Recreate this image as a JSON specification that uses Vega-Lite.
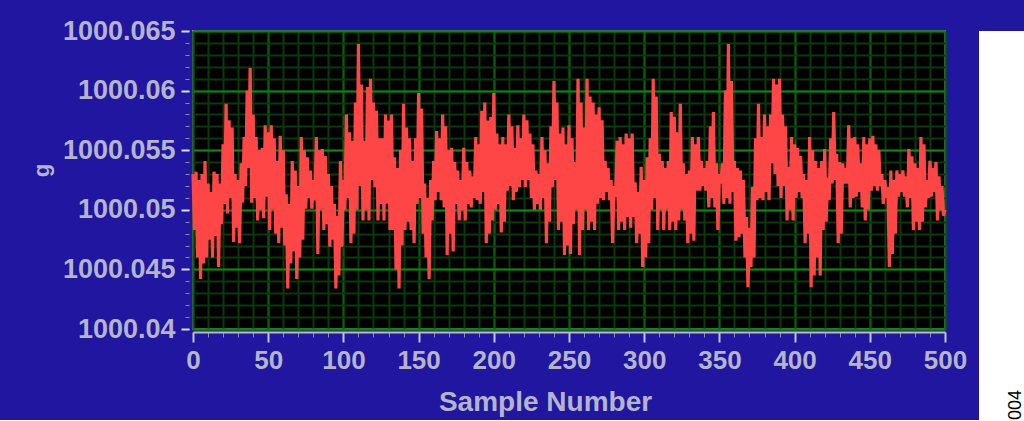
{
 "$schema": "https://vega.github.io/schema/vega-lite/v6.json",
 "background": "#2016a0",
 "padding": {"left": 29, "top": 16, "right": 0, "bottom": 0},
 "bounds": "flush",
 "spacing": 34,
 "datasets": {
  "series": [
{"sample":0,"g":1000.0530},{"sample":1,"g":1000.0483},{"sample":2,"g":1000.0532},{"sample":3,"g":1000.0460},{"sample":4,"g":1000.0525},{"sample":5,"g":1000.0442},{"sample":6,"g":1000.0530},{"sample":7,"g":1000.0455},{"sample":8,"g":1000.0541},{"sample":9,"g":1000.0460},
{"sample":10,"g":1000.0522},{"sample":11,"g":1000.0475},{"sample":12,"g":1000.0515},{"sample":13,"g":1000.0460},{"sample":14,"g":1000.0532},{"sample":15,"g":1000.0478},{"sample":16,"g":1000.0530},{"sample":17,"g":1000.0452},{"sample":18,"g":1000.0522},{"sample":19,"g":1000.0488},
{"sample":20,"g":1000.0555},{"sample":21,"g":1000.0505},{"sample":22,"g":1000.0589},{"sample":23,"g":1000.0497},{"sample":24,"g":1000.0575},{"sample":25,"g":1000.0510},{"sample":26,"g":1000.0569},{"sample":27,"g":1000.0473},{"sample":28,"g":1000.0530},{"sample":29,"g":1000.0485},
{"sample":30,"g":1000.0525},{"sample":31,"g":1000.0472},{"sample":32,"g":1000.0539},{"sample":33,"g":1000.0506},{"sample":34,"g":1000.0561},{"sample":35,"g":1000.0520},{"sample":36,"g":1000.0600},{"sample":37,"g":1000.0535},{"sample":38,"g":1000.0619},{"sample":39,"g":1000.0506},
{"sample":40,"g":1000.0580},{"sample":41,"g":1000.0510},{"sample":42,"g":1000.0561},{"sample":43,"g":1000.0491},{"sample":44,"g":1000.0550},{"sample":45,"g":1000.0500},{"sample":46,"g":1000.0552},{"sample":47,"g":1000.0493},{"sample":48,"g":1000.0571},{"sample":49,"g":1000.0511},
{"sample":50,"g":1000.0565},{"sample":51,"g":1000.0483},{"sample":52,"g":1000.0571},{"sample":53,"g":1000.0500},{"sample":54,"g":1000.0560},{"sample":55,"g":1000.0480},{"sample":56,"g":1000.0541},{"sample":57,"g":1000.0472},{"sample":58,"g":1000.0562},{"sample":59,"g":1000.0485},
{"sample":60,"g":1000.0550},{"sample":61,"g":1000.0470},{"sample":62,"g":1000.0513},{"sample":63,"g":1000.0434},{"sample":64,"g":1000.0505},{"sample":65,"g":1000.0455},{"sample":66,"g":1000.0541},{"sample":67,"g":1000.0465},{"sample":68,"g":1000.0533},{"sample":69,"g":1000.0442},
{"sample":70,"g":1000.0520},{"sample":71,"g":1000.0460},{"sample":72,"g":1000.0561},{"sample":73,"g":1000.0475},{"sample":74,"g":1000.0550},{"sample":75,"g":1000.0501},{"sample":76,"g":1000.0544},{"sample":77,"g":1000.0510},{"sample":78,"g":1000.0533},{"sample":79,"g":1000.0501},
{"sample":80,"g":1000.0525},{"sample":81,"g":1000.0508},{"sample":82,"g":1000.0561},{"sample":83,"g":1000.0463},{"sample":84,"g":1000.0550},{"sample":85,"g":1000.0500},{"sample":86,"g":1000.0551},{"sample":87,"g":1000.0483},{"sample":88,"g":1000.0545},{"sample":89,"g":1000.0488},
{"sample":90,"g":1000.0530},{"sample":91,"g":1000.0469},{"sample":92,"g":1000.0520},{"sample":93,"g":1000.0475},{"sample":94,"g":1000.0505},{"sample":95,"g":1000.0434},{"sample":96,"g":1000.0495},{"sample":97,"g":1000.0445},{"sample":98,"g":1000.0541},{"sample":99,"g":1000.0469},
{"sample":100,"g":1000.0525},{"sample":101,"g":1000.0500},{"sample":102,"g":1000.0580},{"sample":103,"g":1000.0510},{"sample":104,"g":1000.0565},{"sample":105,"g":1000.0472},{"sample":106,"g":1000.0558},{"sample":107,"g":1000.0480},{"sample":108,"g":1000.0590},{"sample":109,"g":1000.0500},
{"sample":110,"g":1000.0639},{"sample":111,"g":1000.0520},{"sample":112,"g":1000.0605},{"sample":113,"g":1000.0491},{"sample":114,"g":1000.0558},{"sample":115,"g":1000.0500},{"sample":116,"g":1000.0603},{"sample":117,"g":1000.0491},{"sample":118,"g":1000.0610},{"sample":119,"g":1000.0525},
{"sample":120,"g":1000.0590},{"sample":121,"g":1000.0519},{"sample":122,"g":1000.0583},{"sample":123,"g":1000.0491},{"sample":124,"g":1000.0560},{"sample":125,"g":1000.0505},{"sample":126,"g":1000.0560},{"sample":127,"g":1000.0491},{"sample":128,"g":1000.0580},{"sample":129,"g":1000.0505},
{"sample":130,"g":1000.0575},{"sample":131,"g":1000.0483},{"sample":132,"g":1000.0580},{"sample":133,"g":1000.0483},{"sample":134,"g":1000.0544},{"sample":135,"g":1000.0450},{"sample":136,"g":1000.0535},{"sample":137,"g":1000.0434},{"sample":138,"g":1000.0550},{"sample":139,"g":1000.0470},
{"sample":140,"g":1000.0589},{"sample":141,"g":1000.0483},{"sample":142,"g":1000.0569},{"sample":143,"g":1000.0490},{"sample":144,"g":1000.0560},{"sample":145,"g":1000.0483},{"sample":146,"g":1000.0541},{"sample":147,"g":1000.0472},{"sample":148,"g":1000.0560},{"sample":149,"g":1000.0505},
{"sample":150,"g":1000.0598},{"sample":151,"g":1000.0510},{"sample":152,"g":1000.0585},{"sample":153,"g":1000.0480},{"sample":154,"g":1000.0522},{"sample":155,"g":1000.0460},{"sample":156,"g":1000.0510},{"sample":157,"g":1000.0442},{"sample":158,"g":1000.0525},{"sample":159,"g":1000.0491},
{"sample":160,"g":1000.0541},{"sample":161,"g":1000.0508},{"sample":162,"g":1000.0566},{"sample":163,"g":1000.0515},{"sample":164,"g":1000.0560},{"sample":165,"g":1000.0508},{"sample":166,"g":1000.0580},{"sample":167,"g":1000.0502},{"sample":168,"g":1000.0570},{"sample":169,"g":1000.0462},
{"sample":170,"g":1000.0550},{"sample":171,"g":1000.0480},{"sample":172,"g":1000.0552},{"sample":173,"g":1000.0465},{"sample":174,"g":1000.0540},{"sample":175,"g":1000.0505},{"sample":176,"g":1000.0533},{"sample":177,"g":1000.0491},{"sample":178,"g":1000.0525},{"sample":179,"g":1000.0500},
{"sample":180,"g":1000.0552},{"sample":181,"g":1000.0491},{"sample":182,"g":1000.0540},{"sample":183,"g":1000.0505},{"sample":184,"g":1000.0533},{"sample":185,"g":1000.0502},{"sample":186,"g":1000.0528},{"sample":187,"g":1000.0510},{"sample":188,"g":1000.0561},{"sample":189,"g":1000.0508},
{"sample":190,"g":1000.0555},{"sample":191,"g":1000.0505},{"sample":192,"g":1000.0583},{"sample":193,"g":1000.0515},{"sample":194,"g":1000.0590},{"sample":195,"g":1000.0472},{"sample":196,"g":1000.0575},{"sample":197,"g":1000.0480},{"sample":198,"g":1000.0578},{"sample":199,"g":1000.0491},
{"sample":200,"g":1000.0598},{"sample":201,"g":1000.0500},{"sample":202,"g":1000.0564},{"sample":203,"g":1000.0505},{"sample":204,"g":1000.0555},{"sample":205,"g":1000.0481},{"sample":206,"g":1000.0561},{"sample":207,"g":1000.0490},{"sample":208,"g":1000.0555},{"sample":209,"g":1000.0516},
{"sample":210,"g":1000.0580},{"sample":211,"g":1000.0520},{"sample":212,"g":1000.0570},{"sample":213,"g":1000.0508},{"sample":214,"g":1000.0552},{"sample":215,"g":1000.0515},{"sample":216,"g":1000.0571},{"sample":217,"g":1000.0519},{"sample":218,"g":1000.0560},{"sample":219,"g":1000.0525},
{"sample":220,"g":1000.0580},{"sample":221,"g":1000.0519},{"sample":222,"g":1000.0575},{"sample":223,"g":1000.0525},{"sample":224,"g":1000.0564},{"sample":225,"g":1000.0510},{"sample":226,"g":1000.0555},{"sample":227,"g":1000.0500},{"sample":228,"g":1000.0533},{"sample":229,"g":1000.0505},
{"sample":230,"g":1000.0530},{"sample":231,"g":1000.0500},{"sample":232,"g":1000.0561},{"sample":233,"g":1000.0510},{"sample":234,"g":1000.0550},{"sample":235,"g":1000.0472},{"sample":236,"g":1000.0539},{"sample":237,"g":1000.0490},{"sample":238,"g":1000.0570},{"sample":239,"g":1000.0519},
{"sample":240,"g":1000.0608},{"sample":241,"g":1000.0525},{"sample":242,"g":1000.0590},{"sample":243,"g":1000.0483},{"sample":244,"g":1000.0564},{"sample":245,"g":1000.0490},{"sample":246,"g":1000.0569},{"sample":247,"g":1000.0462},{"sample":248,"g":1000.0555},{"sample":249,"g":1000.0470},
{"sample":250,"g":1000.0571},{"sample":251,"g":1000.0463},{"sample":252,"g":1000.0560},{"sample":253,"g":1000.0488},{"sample":254,"g":1000.0540},{"sample":255,"g":1000.0500},{"sample":256,"g":1000.0610},{"sample":257,"g":1000.0462},{"sample":258,"g":1000.0590},{"sample":259,"g":1000.0483},
{"sample":260,"g":1000.0569},{"sample":261,"g":1000.0500},{"sample":262,"g":1000.0610},{"sample":263,"g":1000.0483},{"sample":264,"g":1000.0595},{"sample":265,"g":1000.0490},{"sample":266,"g":1000.0590},{"sample":267,"g":1000.0483},{"sample":268,"g":1000.0580},{"sample":269,"g":1000.0505},
{"sample":270,"g":1000.0586},{"sample":271,"g":1000.0510},{"sample":272,"g":1000.0575},{"sample":273,"g":1000.0508},{"sample":274,"g":1000.0541},{"sample":275,"g":1000.0515},{"sample":276,"g":1000.0535},{"sample":277,"g":1000.0508},{"sample":278,"g":1000.0525},{"sample":279,"g":1000.0472},
{"sample":280,"g":1000.0520},{"sample":281,"g":1000.0511},{"sample":282,"g":1000.0558},{"sample":283,"g":1000.0483},{"sample":284,"g":1000.0561},{"sample":285,"g":1000.0490},{"sample":286,"g":1000.0555},{"sample":287,"g":1000.0483},{"sample":288,"g":1000.0564},{"sample":289,"g":1000.0494},
{"sample":290,"g":1000.0560},{"sample":291,"g":1000.0485},{"sample":292,"g":1000.0564},{"sample":293,"g":1000.0494},{"sample":294,"g":1000.0523},{"sample":295,"g":1000.0472},{"sample":296,"g":1000.0515},{"sample":297,"g":1000.0480},{"sample":298,"g":1000.0536},{"sample":299,"g":1000.0452},
{"sample":300,"g":1000.0525},{"sample":301,"g":1000.0460},{"sample":302,"g":1000.0544},{"sample":303,"g":1000.0472},{"sample":304,"g":1000.0560},{"sample":305,"g":1000.0500},{"sample":306,"g":1000.0610},{"sample":307,"g":1000.0510},{"sample":308,"g":1000.0595},{"sample":309,"g":1000.0483},
{"sample":310,"g":1000.0547},{"sample":311,"g":1000.0500},{"sample":312,"g":1000.0541},{"sample":313,"g":1000.0483},{"sample":314,"g":1000.0535},{"sample":315,"g":1000.0500},{"sample":316,"g":1000.0541},{"sample":317,"g":1000.0483},{"sample":318,"g":1000.0582},{"sample":319,"g":1000.0490},
{"sample":320,"g":1000.0578},{"sample":321,"g":1000.0483},{"sample":322,"g":1000.0565},{"sample":323,"g":1000.0491},{"sample":324,"g":1000.0589},{"sample":325,"g":1000.0500},{"sample":326,"g":1000.0539},{"sample":327,"g":1000.0491},{"sample":328,"g":1000.0530},{"sample":329,"g":1000.0472},
{"sample":330,"g":1000.0533},{"sample":331,"g":1000.0480},{"sample":332,"g":1000.0561},{"sample":333,"g":1000.0474},{"sample":334,"g":1000.0555},{"sample":335,"g":1000.0516},{"sample":336,"g":1000.0561},{"sample":337,"g":1000.0516},{"sample":338,"g":1000.0541},{"sample":339,"g":1000.0520},
{"sample":340,"g":1000.0535},{"sample":341,"g":1000.0516},{"sample":342,"g":1000.0541},{"sample":343,"g":1000.0502},{"sample":344,"g":1000.0570},{"sample":345,"g":1000.0510},{"sample":346,"g":1000.0582},{"sample":347,"g":1000.0502},{"sample":348,"g":1000.0539},{"sample":349,"g":1000.0483},
{"sample":350,"g":1000.0530},{"sample":351,"g":1000.0522},{"sample":352,"g":1000.0539},{"sample":353,"g":1000.0505},{"sample":354,"g":1000.0600},{"sample":355,"g":1000.0510},{"sample":356,"g":1000.0639},{"sample":357,"g":1000.0505},{"sample":358,"g":1000.0608},{"sample":359,"g":1000.0515},
{"sample":360,"g":1000.0541},{"sample":361,"g":1000.0474},{"sample":362,"g":1000.0535},{"sample":363,"g":1000.0477},{"sample":364,"g":1000.0533},{"sample":365,"g":1000.0480},{"sample":366,"g":1000.0525},{"sample":367,"g":1000.0460},{"sample":368,"g":1000.0494},{"sample":369,"g":1000.0435},
{"sample":370,"g":1000.0485},{"sample":371,"g":1000.0452},{"sample":372,"g":1000.0519},{"sample":373,"g":1000.0460},{"sample":374,"g":1000.0560},{"sample":375,"g":1000.0508},{"sample":376,"g":1000.0589},{"sample":377,"g":1000.0510},{"sample":378,"g":1000.0561},{"sample":379,"g":1000.0508},
{"sample":380,"g":1000.0580},{"sample":381,"g":1000.0515},{"sample":382,"g":1000.0570},{"sample":383,"g":1000.0508},{"sample":384,"g":1000.0580},{"sample":385,"g":1000.0539},{"sample":386,"g":1000.0610},{"sample":387,"g":1000.0530},{"sample":388,"g":1000.0605},{"sample":389,"g":1000.0520},
{"sample":390,"g":1000.0610},{"sample":391,"g":1000.0510},{"sample":392,"g":1000.0580},{"sample":393,"g":1000.0520},{"sample":394,"g":1000.0570},{"sample":395,"g":1000.0491},{"sample":396,"g":1000.0536},{"sample":397,"g":1000.0500},{"sample":398,"g":1000.0561},{"sample":399,"g":1000.0491},
{"sample":400,"g":1000.0555},{"sample":401,"g":1000.0510},{"sample":402,"g":1000.0552},{"sample":403,"g":1000.0515},{"sample":404,"g":1000.0545},{"sample":405,"g":1000.0510},{"sample":406,"g":1000.0530},{"sample":407,"g":1000.0472},{"sample":408,"g":1000.0525},{"sample":409,"g":1000.0480},
{"sample":410,"g":1000.0561},{"sample":411,"g":1000.0435},{"sample":412,"g":1000.0550},{"sample":413,"g":1000.0445},{"sample":414,"g":1000.0541},{"sample":415,"g":1000.0460},{"sample":416,"g":1000.0535},{"sample":417,"g":1000.0445},{"sample":418,"g":1000.0541},{"sample":419,"g":1000.0483},
{"sample":420,"g":1000.0551},{"sample":421,"g":1000.0490},{"sample":422,"g":1000.0527},{"sample":423,"g":1000.0508},{"sample":424,"g":1000.0560},{"sample":425,"g":1000.0522},{"sample":426,"g":1000.0582},{"sample":427,"g":1000.0525},{"sample":428,"g":1000.0547},{"sample":429,"g":1000.0472},
{"sample":430,"g":1000.0540},{"sample":431,"g":1000.0480},{"sample":432,"g":1000.0539},{"sample":433,"g":1000.0522},{"sample":434,"g":1000.0535},{"sample":435,"g":1000.0522},{"sample":436,"g":1000.0571},{"sample":437,"g":1000.0502},{"sample":438,"g":1000.0560},{"sample":439,"g":1000.0510},
{"sample":440,"g":1000.0561},{"sample":441,"g":1000.0511},{"sample":442,"g":1000.0555},{"sample":443,"g":1000.0515},{"sample":444,"g":1000.0539},{"sample":445,"g":1000.0502},{"sample":446,"g":1000.0561},{"sample":447,"g":1000.0491},{"sample":448,"g":1000.0555},{"sample":449,"g":1000.0500},
{"sample":450,"g":1000.0560},{"sample":451,"g":1000.0516},{"sample":452,"g":1000.0562},{"sample":453,"g":1000.0520},{"sample":454,"g":1000.0555},{"sample":455,"g":1000.0516},{"sample":456,"g":1000.0550},{"sample":457,"g":1000.0520},{"sample":458,"g":1000.0530},{"sample":459,"g":1000.0505},
{"sample":460,"g":1000.0525},{"sample":461,"g":1000.0510},{"sample":462,"g":1000.0519},{"sample":463,"g":1000.0452},{"sample":464,"g":1000.0533},{"sample":465,"g":1000.0463},{"sample":466,"g":1000.0525},{"sample":467,"g":1000.0480},{"sample":468,"g":1000.0533},{"sample":469,"g":1000.0511},
{"sample":470,"g":1000.0530},{"sample":471,"g":1000.0515},{"sample":472,"g":1000.0533},{"sample":473,"g":1000.0511},{"sample":474,"g":1000.0528},{"sample":475,"g":1000.0502},{"sample":476,"g":1000.0551},{"sample":477,"g":1000.0510},{"sample":478,"g":1000.0545},{"sample":479,"g":1000.0483},
{"sample":480,"g":1000.0539},{"sample":481,"g":1000.0490},{"sample":482,"g":1000.0535},{"sample":483,"g":1000.0483},{"sample":484,"g":1000.0561},{"sample":485,"g":1000.0490},{"sample":486,"g":1000.0555},{"sample":487,"g":1000.0502},{"sample":488,"g":1000.0525},{"sample":489,"g":1000.0510},
{"sample":490,"g":1000.0541},{"sample":491,"g":1000.0511},{"sample":492,"g":1000.0535},{"sample":493,"g":1000.0515},{"sample":494,"g":1000.0540},{"sample":495,"g":1000.0491},{"sample":496,"g":1000.0528},{"sample":497,"g":1000.0500},{"sample":498,"g":1000.0520},{"sample":499,"g":1000.0495},
{"sample":500,"g":1000.0500}
  ],
  "note": [{"id": "004"}]
 },
 "hconcat": [
  {
   "width": 752,
   "height": 298,
   "data": {"name": "series"},
   "view": {"fill": "#000000", "stroke": "#8c8ca4", "strokeWidth": 2},
   "layer": [
    {
     "mark": {"type": "line", "strokeOpacity": 0},
     "encoding": {
      "x": {"field": "sample", "type": "quantitative", "scale": {"domain": [0, 500], "nice": false},
       "axis": {"orient": "bottom", "values": [0,10,20,30,40,50,60,70,80,90,100,110,120,130,140,150,160,170,180,190,200,210,220,230,240,250,260,270,280,290,300,310,320,330,340,350,360,370,380,390,400,410,420,430,440,450,460,470,480,490,500],
        "labels": false, "domain": false, "title": null, "tickSize": 5, "tickColor": "#8c8cb0", "tickWidth": 1, "offset": 3,
        "grid": true, "gridColor": "#0a3a0a", "gridWidth": 2}},
      "y": {"field": "g", "type": "quantitative", "scale": {"domain": [1000.04, 1000.065], "nice": false, "zero": false},
       "axis": {"orient": "left", "values": [1000.04,1000.041,1000.042,1000.043,1000.044,1000.045,1000.046,1000.047,1000.048,1000.049,1000.05,1000.051,1000.052,1000.053,1000.054,1000.055,1000.056,1000.057,1000.058,1000.059,1000.06,1000.061,1000.062,1000.063,1000.064,1000.065],
        "labels": false, "domain": false, "title": null, "tickSize": 4, "tickColor": "#8c8cb0", "tickWidth": 1, "offset": 4,
        "grid": true, "gridColor": "#0a3a0a", "gridWidth": 2}}
     }
    },
    {
     "mark": {"type": "line", "color": "#ff4646", "strokeWidth": 3.2, "strokeJoin": "bevel"},
     "encoding": {
      "x": {"field": "sample", "type": "quantitative", "scale": {"domain": [0, 500], "nice": false},
       "axis": {"orient": "bottom", "values": [0,50,100,150,200,250,300,350,400,450,500], "format": "d",
        "grid": true, "gridColor": "#0a600a", "gridWidth": 2,
        "domain": true, "domainColor": "#b8b8d0", "domainWidth": 2, "offset": 3,
        "tickSize": 10, "tickColor": "#c4c4dc", "tickWidth": 2,
        "labelFont": "Liberation Sans", "labelFontSize": 26, "labelFontWeight": "bold", "labelColor": "#b4b4cc", "labelPadding": 5, "labelFlush": false, "labelOverlap": false,
        "title": "Sample Number", "titleFont": "Liberation Sans", "titleFontSize": 28, "titleFontWeight": "bold", "titleColor": "#b4b4cc",
        "titleX": 352, "titleY": 78, "titleBaseline": "alphabetic", "titleAlign": "center"}},
      "y": {"field": "g", "type": "quantitative", "scale": {"domain": [1000.04, 1000.065], "nice": false, "zero": false},
       "axis": {"orient": "left", "values": [1000.04,1000.045,1000.05,1000.055,1000.06,1000.065], "format": ".3~f",
        "grid": true, "gridColor": "#0a880a", "gridWidth": 2,
        "domain": false, "offset": 4, "tickSize": 8, "tickColor": "#dcdcf0", "tickWidth": 2,
        "labelFont": "Liberation Sans", "labelFontSize": 27, "labelFontWeight": "bold", "labelColor": "#b4b4cc", "labelPadding": 6, "labelFlush": false, "labelOverlap": false,
        "title": "g", "titleFont": "Liberation Sans", "titleFontSize": 22, "titleFontWeight": "bold", "titleColor": "#b4b4cc",
        "titleAngle": 270, "titleX": -148, "titleY": 139, "titleAlign": "center", "titleBaseline": "middle"}}
     }
    }
   ],
   "resolve": {"axis": {"x": "independent", "y": "independent"}}
  },
  {
   "width": 46,
   "height": 389,
   "data": {"name": "note"},
   "view": {"fill": "#ffffff", "stroke": null},
   "mark": {"type": "text", "angle": 270, "align": "left", "baseline": "bottom", "font": "Liberation Sans", "fontSize": 18, "color": "#000000"},
   "encoding": {"text": {"field": "id"}, "x": {"value": "width"}, "y": {"value": "height"}}
  }
 ]
}
